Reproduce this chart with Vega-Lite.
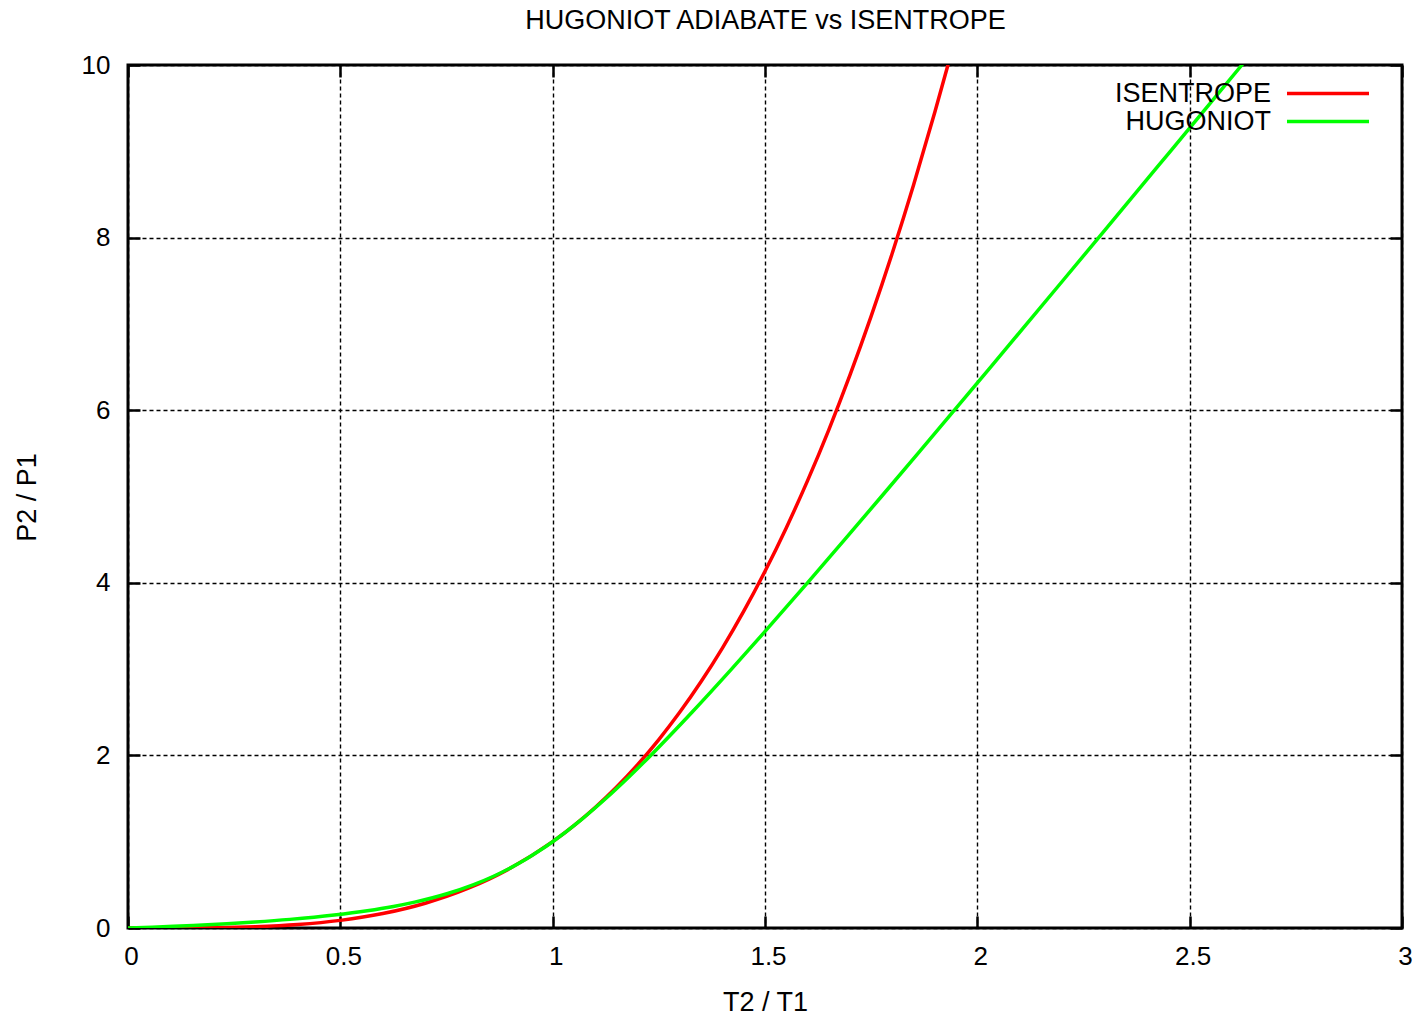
{
  "$schema": "https://vega.github.io/schema/vega-lite/v6.json",
  "width": 1274,
  "height": 863,
  "autosize": {"type": "none"},
  "padding": {"left": 128, "top": 65, "right": 20, "bottom": 93},
  "background": "white",
  "config": {
    "font": "Liberation Sans",
    "view": {"stroke": "black", "strokeWidth": 3},
    "axis": {
      "labelFont": "Liberation Sans",
      "labelFontSize": 26,
      "labelColor": "black",
      "titleFont": "Liberation Sans",
      "titleFontSize": 27,
      "titleFontWeight": "normal",
      "titleColor": "black",
      "domain": false,
      "tickColor": "black",
      "tickWidth": 2.5,
      "tickSize": -12,
      "gridColor": "black",
      "gridDash": [4, 3],
      "gridWidth": 1.4,
      "gridOpacity": 1
    },
    "legend": {
      "orient": "none",
      "legendX": 1157,
      "padding": 0,
      "symbolType": "stroke",
      "symbolSize": 6724,
      "symbolStrokeWidth": 3.5,
      "labelAlign": "right",
      "labelOffset": -100,
      "labelFont": "Liberation Sans",
      "labelFontSize": 27,
      "labelColor": "black",
      "labelLimit": 400
    }
  },
  "data": {
    "values": [
      {"t": 0, "p": 0, "curve": "ISENTROPE"},
      {"t": 0.1, "p": 0.000316, "curve": "ISENTROPE"},
      {"t": 0.2, "p": 0.003578, "curve": "ISENTROPE"},
      {"t": 0.3, "p": 0.01479, "curve": "ISENTROPE"},
      {"t": 0.4, "p": 0.04048, "curve": "ISENTROPE"},
      {"t": 0.5, "p": 0.08839, "curve": "ISENTROPE"},
      {"t": 0.6, "p": 0.1673, "curve": "ISENTROPE"},
      {"t": 0.7, "p": 0.287, "curve": "ISENTROPE"},
      {"t": 0.8, "p": 0.4579, "curve": "ISENTROPE"},
      {"t": 0.9, "p": 0.6916, "curve": "ISENTROPE"},
      {"t": 1.0, "p": 1.0, "curve": "ISENTROPE"},
      {"t": 1.05, "p": 1.1862, "curve": "ISENTROPE"},
      {"t": 1.1, "p": 1.396, "curve": "ISENTROPE"},
      {"t": 1.15, "p": 1.631, "curve": "ISENTROPE"},
      {"t": 1.2, "p": 1.8929, "curve": "ISENTROPE"},
      {"t": 1.25, "p": 2.1837, "curve": "ISENTROPE"},
      {"t": 1.3, "p": 2.505, "curve": "ISENTROPE"},
      {"t": 1.35, "p": 2.8587, "curve": "ISENTROPE"},
      {"t": 1.4, "p": 3.2467, "curve": "ISENTROPE"},
      {"t": 1.45, "p": 3.671, "curve": "ISENTROPE"},
      {"t": 1.5, "p": 4.1335, "curve": "ISENTROPE"},
      {"t": 1.55, "p": 4.6362, "curve": "ISENTROPE"},
      {"t": 1.6, "p": 5.181, "curve": "ISENTROPE"},
      {"t": 1.65, "p": 5.7702, "curve": "ISENTROPE"},
      {"t": 1.7, "p": 6.4057, "curve": "ISENTROPE"},
      {"t": 1.75, "p": 7.0898, "curve": "ISENTROPE"},
      {"t": 1.8, "p": 7.8244, "curve": "ISENTROPE"},
      {"t": 1.85, "p": 8.6119, "curve": "ISENTROPE"},
      {"t": 1.9, "p": 9.4545, "curve": "ISENTROPE"},
      {"t": 1.93, "p": 9.986, "curve": "ISENTROPE"},
      {"t": 1.95, "p": 10.354, "curve": "ISENTROPE"},
      {"t": 0, "p": 0, "curve": "HUGONIOT"},
      {"t": 0.0567, "p": 0.01, "curve": "HUGONIOT"},
      {"t": 0.1075, "p": 0.02, "curve": "HUGONIOT"},
      {"t": 0.1533, "p": 0.03, "curve": "HUGONIOT"},
      {"t": 0.2327, "p": 0.05, "curve": "HUGONIOT"},
      {"t": 0.2992, "p": 0.07, "curve": "HUGONIOT"},
      {"t": 0.3813, "p": 0.1, "curve": "HUGONIOT"},
      {"t": 0.4855, "p": 0.15, "curve": "HUGONIOT"},
      {"t": 0.5636, "p": 0.2, "curve": "HUGONIOT"},
      {"t": 0.625, "p": 0.25, "curve": "HUGONIOT"},
      {"t": 0.675, "p": 0.3, "curve": "HUGONIOT"},
      {"t": 0.7529, "p": 0.4, "curve": "HUGONIOT"},
      {"t": 0.8125, "p": 0.5, "curve": "HUGONIOT"},
      {"t": 0.8609, "p": 0.6, "curve": "HUGONIOT"},
      {"t": 0.9019, "p": 0.7, "curve": "HUGONIOT"},
      {"t": 0.9379, "p": 0.8, "curve": "HUGONIOT"},
      {"t": 0.9703, "p": 0.9, "curve": "HUGONIOT"},
      {"t": 1.0, "p": 1.0, "curve": "HUGONIOT"},
      {"t": 1.0662, "p": 1.25, "curve": "HUGONIOT"},
      {"t": 1.125, "p": 1.5, "curve": "HUGONIOT"},
      {"t": 1.1794, "p": 1.75, "curve": "HUGONIOT"},
      {"t": 1.2308, "p": 2.0, "curve": "HUGONIOT"},
      {"t": 1.3281, "p": 2.5, "curve": "HUGONIOT"},
      {"t": 1.4211, "p": 3.0, "curve": "HUGONIOT"},
      {"t": 1.5114, "p": 3.5, "curve": "HUGONIOT"},
      {"t": 1.6, "p": 4.0, "curve": "HUGONIOT"},
      {"t": 1.6875, "p": 4.5, "curve": "HUGONIOT"},
      {"t": 1.7742, "p": 5.0, "curve": "HUGONIOT"},
      {"t": 1.8603, "p": 5.5, "curve": "HUGONIOT"},
      {"t": 1.9459, "p": 6.0, "curve": "HUGONIOT"},
      {"t": 2.0313, "p": 6.5, "curve": "HUGONIOT"},
      {"t": 2.1163, "p": 7.0, "curve": "HUGONIOT"},
      {"t": 2.2011, "p": 7.5, "curve": "HUGONIOT"},
      {"t": 2.2857, "p": 8.0, "curve": "HUGONIOT"},
      {"t": 2.3702, "p": 8.5, "curve": "HUGONIOT"},
      {"t": 2.4545, "p": 9.0, "curve": "HUGONIOT"},
      {"t": 2.5388, "p": 9.5, "curve": "HUGONIOT"},
      {"t": 2.623, "p": 10.0, "curve": "HUGONIOT"},
      {"t": 2.6566, "p": 10.2, "curve": "HUGONIOT"}
    ]
  },
  "layer": [
    {
      "transform": [{"filter": "datum.curve === 'ISENTROPE'"}],
      "mark": {"type": "line", "clip": true, "strokeWidth": 3.5, "interpolate": "monotone"},
      "encoding": {
        "x": {
          "field": "t", "type": "quantitative",
          "scale": {"domain": [0, 3], "nice": false},
          "axis": {
            "orient": "bottom", "values": [0, 0.5, 1, 1.5, 2, 2.5, 3], "format": "~g",
            "grid": true, "title": "T2 / T1", "labelPadding": 27, "labelFlush": false, "labelOffset": 3,
            "titleBaseline": "alphabetic", "titleY": 82, "titleAnchor": "middle"
          }
        },
        "y": {
          "field": "p", "type": "quantitative",
          "scale": {"domain": [0, 10], "nice": false},
          "axis": {
            "orient": "left", "values": [0, 2, 4, 6, 8, 10], "format": "d",
            "grid": true, "title": "P2 / P1", "labelPadding": 30, "labelFlush": false,
            "titleBaseline": "alphabetic", "titleX": -93, "titleY": 432, "titleAngle": -90, "titleAlign": "center"
          }
        },
        "color": {
          "field": "curve", "type": "nominal",
          "scale": {"domain": ["ISENTROPE"], "range": ["#ff0000"]},
          "legend": {"title": null, "orient": "none", "legendX": 1157, "legendY": -14.5}
        }
      }
    },
    {
      "transform": [{"filter": "datum.curve === 'HUGONIOT'"}],
      "mark": {"type": "line", "clip": true, "strokeWidth": 3.5, "interpolate": "monotone"},
      "encoding": {
        "x": {
          "field": "t", "type": "quantitative",
          "axis": {
            "orient": "top", "values": [0, 0.5, 1, 1.5, 2, 2.5, 3], "labels": false, "grid": false,
            "title": "HUGONIOT ADIABATE vs ISENTROPE", "titleFontSize": 27,
            "titleBaseline": "alphabetic", "titleY": -37, "titleAnchor": "middle"
          }
        },
        "y": {
          "field": "p", "type": "quantitative",
          "axis": {"orient": "right", "values": [0, 2, 4, 6, 8, 10], "labels": false, "grid": false, "title": null}
        },
        "stroke": {
          "field": "curve", "type": "nominal",
          "scale": {"domain": ["HUGONIOT"], "range": ["#00ff00"]},
          "legend": {"title": null, "orient": "none", "legendX": 1157, "legendY": 13.5}
        }
      }
    }
  ],
  "resolve": {"axis": {"x": "independent", "y": "independent"}, "scale": {"color": "independent", "stroke": "independent"}}
}
